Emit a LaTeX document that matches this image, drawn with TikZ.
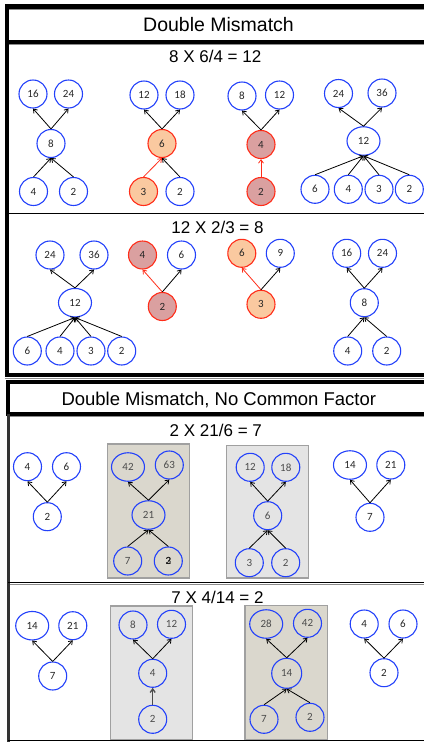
\documentclass[tikz,border=0pt]{standalone}
\usepackage{fontspec}
\setmainfont{Liberation Sans}
\newfontfamily\numfont{Carlito}
\usetikzlibrary{arrows.meta,shapes.geometric}

\definecolor{nodeblue}{RGB}{35,65,250}
\definecolor{hotred}{RGB}{255,45,25}
\definecolor{peach}{RGB}{250,201,160}
\definecolor{rose}{RGB}{218,160,160}
\definecolor{taupe}{RGB}{218,215,205}
\definecolor{pale}{RGB}{228,228,228}
\definecolor{rim}{RGB}{160,160,160}

\begin{document}
\begin{tikzpicture}[x=1pt,y=-1pt,
  num/.style={circle,draw=nodeblue,line width=1.1pt,minimum size=28pt,inner sep=0pt,
    font=\numfont\fontsize{11}{11}\selectfont,text=black!85},
  oval/.style={num,ellipse,minimum width=33pt,minimum height=28.5pt},
  peachnode/.style={fill=peach,draw=hotred},
  rosenode/.style={fill=rose,draw=hotred},
  boxed/.style={text=black!70},
  link/.style={-{Straight Barb[length=3.5pt,width=5pt]},line width=0.8pt,black},
  redlink/.style={link,hotred},
  heading/.style={anchor=base,font=\fontsize{19.5}{20}\selectfont},
  eqn/.style={anchor=base,font=\fontsize{17}{18}\selectfont},
  darkpanel/.style={fill=taupe,draw=rim,line width=1.3pt},
  lightpanel/.style={fill=pale,draw=rim,line width=1.3pt},
  shade/.style={black!45,line width=1pt}]

\useasboundingbox (0,0) rectangle (424,742);

% ---------- upper frame ----------
\draw[line width=4pt] (7,4) -- (7,376.5);
\draw[line width=4.5pt] (5,6.5) -- (424,6.5);
\draw[shade] (9,9.6) -- (424,9.6);
\draw[line width=3.6pt] (7,41.8) -- (424,41.8);
\draw[shade] (9,44.4) -- (424,44.4);
\draw[line width=1.6pt] (9,213.3) -- (424,213.3);
\draw[line width=3.4pt] (5,375) -- (424,375);
\draw[shade] (5,378.6) -- (424,378.6);

% ---------- lower frame ----------
\draw[line width=3.4pt] (6,381.8) -- (424,381.8);
\draw[line width=4pt] (8,380) -- (8,416);
\draw[line width=3.6pt] (8,414) -- (424,414);
\draw[shade] (10,416.6) -- (424,416.6);
\draw[black!80,line width=2.2pt] (8.5,414) -- (8.5,741.5);
\draw[line width=1.5pt] (8,582.6) -- (424,582.6);
\draw[shade] (10,584.6) -- (424,584.6);
\draw[line width=1.5pt] (8,740.6) -- (424,740.6);

% ---------- headings ----------
\node[heading] (t1) at (218.5,31) {Double Mismatch};
\node[eqn] (q1) at (215.2,62.3) {8 X 6/4 = 12};
\node[eqn] (q2) at (217.5,233.3) {12 X 2/3 = 8};
\node[heading,font=\fontsize{18.5}{19}\selectfont] (t2) at (218.8,405.7) {Double Mismatch, No Common Factor};
\node[eqn] (q3) at (215.8,436.7) {2 X 21/6 = 7};
\node[eqn] (q4) at (217.5,603.3) {7 X 4/14 = 2};

% ---------- shaded panels ----------
\node[darkpanel,minimum width=82pt,minimum height=134pt,inner sep=0pt] (boxJ) at (148.3,511) {};
\node[lightpanel,minimum width=81.6pt,minimum height=132.3pt,inner sep=0pt] (boxK) at (267.5,511.9) {};
\node[lightpanel,minimum width=82pt,minimum height=133.3pt,inner sep=0pt] (boxN) at (151.7,672.7) {};
\node[darkpanel,minimum width=82.3pt,minimum height=133.6pt,inner sep=0pt] (boxO) at (286.2,672.5) {};

% ---------- 8 X 6/4 = 12 ----------
\node[num] (a16) at (33,94) {16};
\node[num] (a24) at (68.5,94) {24};
\node[num] (a8) at (51,143.5) {8};
\node[num] (a4) at (33.5,191.5) {4};
\node[num] (a2) at (73.5,191.5) {2};
\draw[link] (a8.north) -- (a16.south);
\draw[link] (a8.north) -- (a24.south);
\draw[link] (a4.north) -- (a8.south);
\draw[link] (a2.north) -- (a8.south);

\node[num] (b12) at (144,95) {12};
\node[num] (b18) at (180,95) {18};
\node[num,peachnode] (b6) at (162,143.5) {6};
\node[num,peachnode] (b3) at (143.5,191.5) {3};
\node[num] (b2) at (180,191.5) {2};
\draw[link] (b6.north) -- (b12.south);
\draw[link] (b6.north) -- (b18.south);
\draw[redlink] (b3.north) -- (b6.south);
\draw[link] (b2.north) -- (b6.south);

\node[num] (c8) at (242,96) {8};
\node[num] (c12) at (279.5,95) {12};
\node[num,rosenode] (c4) at (261,144.5) {4};
\node[num,rosenode] (c2) at (261,191.5) {2};
\draw[link] (c4.north) -- (c8.south);
\draw[link] (c4.north) -- (c12.south);
\draw[redlink] (c2.north) -- (c4.south);

\node[num] (d24) at (338.5,93.5) {24};
\node[num] (d36) at (382,93) {36};
\node[oval] (d12) at (363.5,141) {12};
\node[num] (d6) at (315,189.3) {6};
\node[num] (d4) at (348.3,189.3) {4};
\node[num] (d3) at (379,189.3) {3};
\node[num] (d2) at (409.3,189.3) {2};
\draw[link] (d12.north) -- (d24.south);
\draw[link] (d12.north) -- (d36.south);
\foreach \k in {d6,d4,d3,d2} \draw[link] (\k.north) -- (d12.south);

% ---------- 12 X 2/3 = 8 ----------
\node[num] (e24) at (50,255) {24};
\node[num] (e36) at (94,255) {36};
\node[oval] (e12) at (75,302.7) {12};
\node[num] (e6) at (27.3,351) {6};
\node[num] (e4) at (60,351) {4};
\node[num] (e3) at (91,351) {3};
\node[num] (e2) at (121.7,351) {2};
\draw[link] (e12.north) -- (e24.south);
\draw[link] (e12.north) -- (e36.south);
\foreach \k in {e6,e4,e3,e2} \draw[link] (\k.north) -- (e12.south);

\node[num,rosenode] (f4) at (142.5,255) {4};
\node[num] (f6) at (181.5,255) {6};
\node[num,rosenode] (f2) at (162.3,306.5) {2};
\draw[redlink] (f2.north) -- (f4.south);
\draw[link] (f2.north) -- (f6.south);

\node[num,peachnode] (g6) at (241.8,253.3) {6};
\node[num] (g9) at (280.3,253.3) {9};
\node[num,peachnode] (g3) at (261,304.3) {3};
\draw[redlink] (g3.north) -- (g6.south);
\draw[link] (g3.north) -- (g9.south);

\node[num] (h16) at (346.7,253.3) {16};
\node[num] (h24) at (382.5,253.3) {24};
\node[num] (h8) at (364.3,302.7) {8};
\node[num] (h4) at (347.7,351) {4};
\node[num] (h2) at (386.7,351) {2};
\draw[link] (h8.north) -- (h16.south);
\draw[link] (h8.north) -- (h24.south);
\draw[link] (h4.north) -- (h8.south);
\draw[link] (h2.north) -- (h8.south);

% ---------- 2 X 21/6 = 7 ----------
\node[num] (i4) at (27.5,466.7) {4};
\node[num] (i6) at (66.5,466.7) {6};
\node[num] (i2) at (47.3,516.7) {2};
\draw[link] (i2.north) -- (i4.south);
\draw[link] (i2.north) -- (i6.south);

\node[oval,boxed] (j42) at (128,467) {42};
\node[num,boxed] (j63) at (169.3,465) {63};
\node[oval,boxed] (j21) at (148.5,515) {21};
\node[num,boxed] (j7) at (127.7,561) {7};
\node[num,boxed,text=black!90] (j3) at (168.3,561) {\rlap{2}3};
\draw[link] (j21.north) -- (j42.south);
\draw[link] (j21.north) -- (j63.south);
\draw[link] (j7.north) -- (j21.south);
\draw[link] (j3.north) -- (j21.south);

\node[num,boxed] (k12) at (250.2,467.3) {12};
\node[num,boxed] (k18) at (285.8,467.3) {18};
\node[num,boxed] (k6) at (267.7,515.7) {6};
\node[num,boxed] (k3) at (249.3,562.7) {3};
\node[num,boxed] (k2) at (285.7,562.7) {2};
\draw[link] (k6.north) -- (k12.south);
\draw[link] (k6.north) -- (k18.south);
\draw[link] (k3.north) -- (k6.south);
\draw[link] (k2.north) -- (k6.south);

\node[oval] (l14) at (350,465) {14};
\node[num] (l21) at (390.8,465) {21};
\node[num] (l7) at (370,517.3) {7};
\draw[link] (l7.north) -- (l14.south);
\draw[link] (l7.north) -- (l21.south);

% ---------- 7 X 4/14 = 2 ----------
\node[oval] (m14) at (32.2,625.7) {14};
\node[num] (m21) at (72.8,625.7) {21};
\node[num] (m7) at (52.7,676) {7};
\draw[link] (m7.north) -- (m14.south);
\draw[link] (m7.north) -- (m21.south);

\node[num,boxed] (n8) at (133,625) {8};
\node[num,boxed] (n12) at (171.5,624.3) {12};
\node[num,boxed] (n4) at (152.7,673.3) {4};
\node[num,boxed] (n2) at (152.7,719.3) {2};
\draw[link] (n4.north) -- (n8.south);
\draw[link] (n4.north) -- (n12.south);
\draw[link,black!70,line width=1.3pt] (n2.north) -- (n4.south);

\node[oval,boxed] (o28) at (266.2,624) {28};
\node[num,boxed] (o42) at (307.5,623.3) {42};
\node[num,boxed,minimum size=30pt] (o14) at (286.7,673.3) {14};
\node[num,boxed] (o7) at (264,719.3) {7};
\node[num,boxed] (o2) at (310,717.3) {2};
\draw[link] (o14.north) -- (o28.south);
\draw[link] (o14.north) -- (o42.south);
\draw[link] (o7.north) -- (o14.south);
\draw[link] (o2.north) -- (o14.south);

\node[num] (p4) at (364.2,624) {4};
\node[num] (p6) at (403,624) {6};
\node[num] (p2) at (384,672.7) {2};
\draw[link] (p2.north) -- (p4.south);
\draw[link] (p2.north) -- (p6.south);
\end{tikzpicture}
\end{document}
